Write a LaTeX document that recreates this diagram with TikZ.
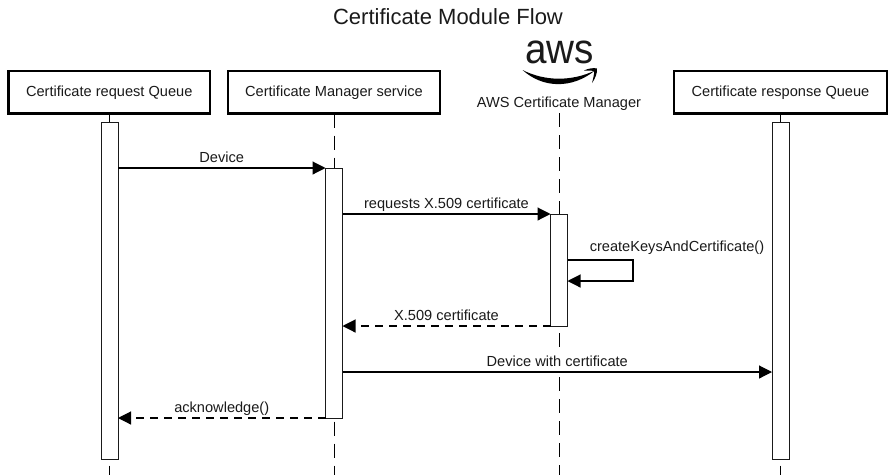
\documentclass[tikz,border=0pt]{standalone}
\usepackage{fontspec}
\setmainfont{Liberation Sans}
\usetikzlibrary{arrows.meta}
\definecolor{ink}{HTML}{1A1A1A}
\tikzset{
  actor/.style={draw=black,line width=2.6pt,fill=white,minimum height=42.5pt,inner sep=0pt,outer sep=0pt,font=\fontsize{14.6}{16}\selectfont,text=ink,anchor=north west},
  bar/.style={draw=ink,line width=1pt,fill=white,minimum width=17pt,inner sep=0pt,outer sep=0pt,anchor=north west},
  life/.style={draw=black,line width=1pt,dash pattern=on 14pt off 8pt},
  msg/.style={draw=black,line width=1.15pt,-{Triangle[length=13pt,width=13pt]}},
  ret/.style={msg,dash pattern=on 8pt off 6pt},
  lab/.style={font=\fontsize{14.6}{16}\selectfont,text=ink,inner sep=0pt},
  over/.style={lab,fill=white,text height=15pt,text depth=4pt,above=0.7pt}
}
\begin{document}
\begin{tikzpicture}[x=1pt,y=-1pt]
\useasboundingbox (0,0) rectangle (895,475);
\node[lab,font=\fontsize{22}{24}\selectfont] (title) at (448,17) {Certificate Module Flow};
\node[actor,minimum width=201.5pt] (q1) at (8.5,71) {Certificate request Queue};
\node[actor,minimum width=212pt] (q2) at (228,71) {Certificate Manager service};
\node[actor,minimum width=213pt] (q4) at (674,71) {Certificate response Queue};
\node[lab,font=\fontsize{42}{44}\selectfont,xscale=0.92] (aws) at (559.5,52) {aws};
\fill[black] (522.5,70) .. controls (545,81.5) and (572,81.5) .. (595,70.5) .. controls (572,89) and (543,88.5) .. (522.5,70) -- cycle;
\fill[black] (584,70.5) .. controls (588,68.5) and (594,67.5) .. (597,68.5) .. controls (597.5,73) and (595,79) .. (592,83) .. controls (593,79) and (594.5,74) .. (594,71) .. controls (591,70.5) and (587,70.5) .. (584,70.5) -- cycle;
\node[lab] (acm) at (559,104) {AWS Certificate Manager};
\coordinate (e1) at (109.5,475);
\coordinate (e2) at (334,475);
\coordinate (e3) at (559,475);
\coordinate (e4) at (780,475);
\draw[life] (q1.south -| e1) -- (e1);
\draw[life] (q2.south -| e2) -- (e2);
\draw[life] (acm.south -| e3) ++(0,2) -- (e3);
\draw[life] (q4.south -| e4) -- (e4);
\node[bar,minimum height=337pt] (a1) at (101,122) {};
\node[bar,minimum height=250pt] (a2) at (325.5,168) {};
\node[bar,minimum height=112pt] (a3) at (550.5,214) {};
\node[bar,minimum height=337pt] (a4) at (772,122) {};
\draw[msg] (a2.north west -| a1.east) -- node[over] (m1) {Device} (a2.north west);
\draw[msg] (a3.north west -| a2.east) -- node[over,yshift=0.7pt] (m2) {requests X.509 certificate} (a3.north west);
\coordinate (s1) at (633,260);
\coordinate (s2) at (633,281);
\draw[msg] (a3.east |- s1) -- (s1) -- (s2) -- (a3.east |- s2);
\node[lab] (m3) at (677,248) {createKeysAndCertificate()};
\draw[ret] (a3.south west) -- node[over] (m4) {X.509 certificate} (a2.east |- a3.south west);
\coordinate (d) at (0,372);
\draw[msg] (a2.east |- d) -- node[over] (m5) {Device with certificate} (a4.west |- d);
\draw[ret] (a2.south west) -- node[over] (m6) {acknowledge()} (a1.east |- a2.south west);
\end{tikzpicture}
\end{document}
